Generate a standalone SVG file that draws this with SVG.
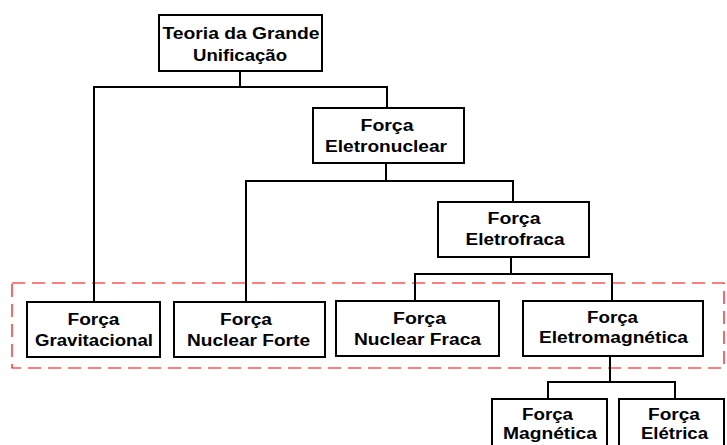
<svg xmlns="http://www.w3.org/2000/svg" width="727" height="445" viewBox="0 0 727 445">
<style>
.box{fill:#fff;stroke:#000;stroke-width:2}
.t{font-family:"Liberation Sans",Arial,sans-serif;font-weight:bold;font-size:16px;fill:#000;text-anchor:middle}
.c{fill:none;stroke:#000;stroke-width:2}
.grp{fill:none;stroke:#f00;stroke-width:1.2;stroke-dasharray:13,7}
</style>
<rect width="727" height="445" fill="#fff"/>
<rect class="grp" x="12" y="283" width="712" height="85"/>
<g id="connectors">
<polyline class="c" points="240,71 240,87"/>
<polyline class="c" points="94,302 94,87 387,87 387,108"/>
<polyline class="c" points="386,163 386,181"/>
<polyline class="c" points="246,301 246,181 513,181 513,202"/>
<polyline class="c" points="511,257 511,274"/>
<polyline class="c" points="415,301 415,274 612,274 612,301"/>
<polyline class="c" points="610,356 610,382"/>
<polyline class="c" points="548,399 548,382 675,382 675,399"/>
</g>
<g id="teoria">
<rect class="box" x="159" y="15" width="163" height="56"/>
<text class="t" x="241" y="39" textLength="157" lengthAdjust="spacingAndGlyphs">Teoria da Grande</text>
<text class="t" x="240" y="61" textLength="94" lengthAdjust="spacingAndGlyphs">Unificação</text>
</g>
<g id="eletronuclear">
<rect class="box" x="313" y="108" width="151" height="55"/>
<text class="t" x="387" y="131" textLength="53" lengthAdjust="spacingAndGlyphs">Força</text>
<text class="t" x="386" y="152" textLength="122" lengthAdjust="spacingAndGlyphs">Eletronuclear</text>
</g>
<g id="eletrofraca">
<rect class="box" x="438" y="202" width="151" height="55"/>
<text class="t" x="514" y="224" textLength="53" lengthAdjust="spacingAndGlyphs">Força</text>
<text class="t" x="515" y="245" textLength="99" lengthAdjust="spacingAndGlyphs">Eletrofraca</text>
</g>
<g id="gravitacional">
<rect class="box" x="27" y="302" width="133" height="55"/>
<text class="t" x="93.5" y="325" textLength="52" lengthAdjust="spacingAndGlyphs">Força</text>
<text class="t" x="94" y="346" textLength="118" lengthAdjust="spacingAndGlyphs">Gravitacional</text>
</g>
<g id="nuclear-forte">
<rect class="box" x="174" y="302" width="151" height="55"/>
<text class="t" x="246" y="325" textLength="52" lengthAdjust="spacingAndGlyphs">Força</text>
<text class="t" x="248.5" y="346" textLength="123" lengthAdjust="spacingAndGlyphs">Nuclear Forte</text>
</g>
<g id="nuclear-fraca">
<rect class="box" x="336" y="301" width="163" height="55"/>
<text class="t" x="419.5" y="324" textLength="53" lengthAdjust="spacingAndGlyphs">Força</text>
<text class="t" x="417.5" y="345" textLength="127" lengthAdjust="spacingAndGlyphs">Nuclear Fraca</text>
</g>
<g id="eletromagnetica">
<rect class="box" x="523" y="301" width="180" height="55"/>
<text class="t" x="612.5" y="323" textLength="51" lengthAdjust="spacingAndGlyphs">Força</text>
<text class="t" x="613.5" y="343" textLength="149" lengthAdjust="spacingAndGlyphs">Eletromagnética</text>
</g>
<g id="magnetica">
<rect class="box" x="492" y="399" width="115" height="60"/>
<text class="t" x="547.5" y="420" textLength="51" lengthAdjust="spacingAndGlyphs">Força</text>
<text class="t" x="550" y="439" textLength="94" lengthAdjust="spacingAndGlyphs">Magnética</text>
</g>
<g id="eletrica">
<rect class="box" x="619" y="399" width="105" height="60"/>
<text class="t" x="674" y="420" textLength="52" lengthAdjust="spacingAndGlyphs">Força</text>
<text class="t" x="674.5" y="439" textLength="67" lengthAdjust="spacingAndGlyphs">Elétrica</text>
</g>
</svg>
